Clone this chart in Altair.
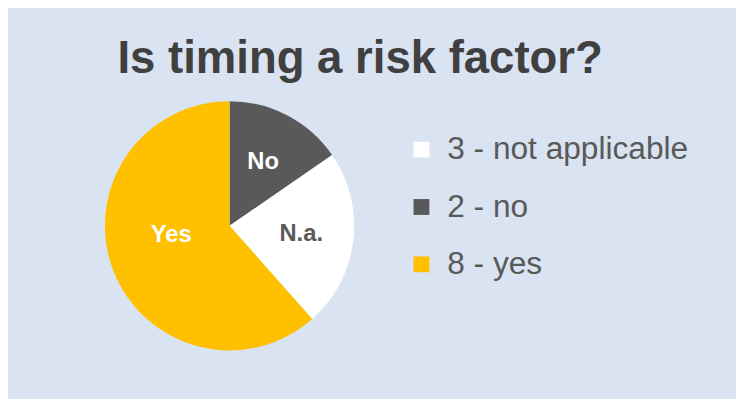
import altair as alt
import pandas as pd

# data
categories = ["No", "N.a.", "Yes"]
counts = [2, 3, 8]
legend_labels = ["2 - no", "3 - not applicable", "8 - yes"]
slice_order = [1, 2, 3]
label_colors = ["#FFFFFF", "#595959", "#FFFFFF"]
legend_order = ["3 - not applicable", "2 - no", "8 - yes"]
legend_colors = ["#FFFFFF", "#595959", "#FFC000"]
title_text = "Is timing a risk factor?"

df = pd.DataFrame({
    "cat": categories,
    "count": counts,
    "legend": legend_labels,
    "ord": slice_order,
    "lcolor": label_colors,
})

CX, CY, R = 224, 218, 126

base = alt.Chart(df).encode(
    theta=alt.Theta("count:Q", stack=True),
    order=alt.Order("ord:Q", sort="ascending"),
)

pie = base.mark_arc(outerRadius=R, strokeWidth=0).encode(
    x=alt.value(CX),
    y=alt.value(CY),
    color=alt.Color(
        "legend:N",
        scale=alt.Scale(domain=legend_order, range=legend_colors),
        legend=alt.Legend(
            title=None,
            orient="none",
            legendX=402,
            legendY=125,
            symbolType="square",
            symbolSize=256,
            symbolStrokeWidth=0,
            labelFontSize=32,
            labelFont="Liberation Sans",
            labelColor="#595959",
            labelOffset=10,
            rowPadding=26,
            padding=0,
            labelLimit=400,
        ),
    ),
)

labels = base.mark_text(
    radius=73, font="Liberation Sans", fontSize=24, fontWeight="bold", baseline="middle"
).transform_filter(alt.datum.cat != "Yes").encode(
    x=alt.value(CX),
    y=alt.value(CY),
    text="cat:N",
    color=alt.Color("lcolor:N", scale=None),
)

yes_label = base.mark_text(
    radius=61, dy=-12, dx=-2, font="Liberation Sans", fontSize=24, fontWeight="bold", baseline="middle"
).encode(
    x=alt.value(CX),
    y=alt.value(CY),
    text=alt.condition(alt.datum.cat == "Yes", "cat:N", alt.value("")),
    color=alt.Color("lcolor:N", scale=None),
)

title = alt.Chart(pd.DataFrame({"t": [title_text]})).mark_text(
    font="Liberation Sans", fontSize=46, fontWeight="bold", color="#404040",
    align="center", baseline="alphabetic",
).encode(x=alt.value(356), y=alt.value(64), text="t:N")

chart = alt.layer(pie, labels, yes_label, title).properties(
    width=736, height=392, background="#D9E3F1", padding=0
).configure_view(strokeWidth=0)

chart.save("out.html", embed_options={"renderer": "svg", "actions": False})
